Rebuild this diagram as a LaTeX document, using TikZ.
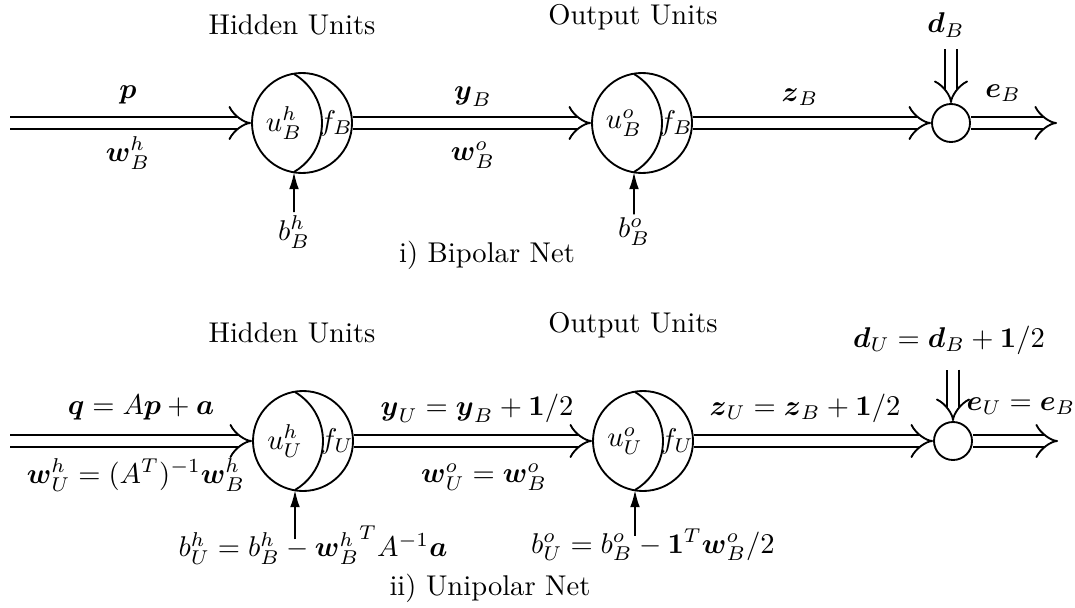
\documentclass[tikz,border=0pt]{standalone}
\usepackage{amsmath,amssymb}
\usetikzlibrary{arrows.meta,positioning}

\begin{document}
\begin{tikzpicture}[x=0.35pt, y=-0.35pt, line width=0.65pt,
  unit/.style={draw, circle, minimum size=35pt, inner sep=0pt},
  sumnode/.style={draw, circle, minimum size=13.3pt, inner sep=0pt},
  vec/.style={double, double distance=3.6pt, -{Implies[scale=1.5]}},
  bias/.style={-{Latex[length=6pt, width=3.4pt]}},
  lbl/.style={inner sep=1pt}]
\useasboundingbox (0,0) rectangle (1075,607);
% i) bipolar net
\node[unit] (hB) at (302,123) {};
\node[unit] (oB) at (642,123) {};
\node[sumnode] (sB) at (951,123) {};
\coordinate (inB) at (10,123);
\coordinate (outB) at (1057,123);
\node[lbl] (hidB) at (292,25) {Hidden Units};
\node[lbl] (outpB) at (633,17) {Output Units};
\node[lbl] (uhB) at ([xshift=-6.3pt]hB.center) {$u^h_B$};
\node[lbl] (fhB) at ([xshift=11.9pt]hB.center) {$f_B$};
\node[lbl] (uoB) at ([xshift=-6.3pt]oB.center) {$u^o_B$};
\node[lbl] (foB) at ([xshift=11.9pt]oB.center) {$f_B$};
\node[lbl] (pB) at (128,95) {$\boldsymbol{p}$};
\node[lbl] (whB) at (128,153) {$\boldsymbol{w}^h_B$};
\node[lbl] (yB) at (473,97) {$\boldsymbol{y}_B$};
\node[lbl] (woB) at (473,155) {$\boldsymbol{w}^o_B$};
\node[lbl] (zB) at (800,97) {$\boldsymbol{z}_B$};
\node[lbl] (dB) at (946,25) {$\boldsymbol{d}_B$};
\node[lbl] (eB) at (1003,93) {$\boldsymbol{e}_B$};
\node[lbl] (bhB) at (294,232) {$b^h_B$};
\node[lbl] (boB) at (634,232) {$b^o_B$};
\node[lbl] (capB) at (487,255) {i) Bipolar Net};
% ii) unipolar net
\node[unit] (hU) at (303,441) {};
\node[unit] (oU) at (643,441) {};
\node[sumnode] (sU) at (953,441) {};
\coordinate (inU) at (10,441);
\coordinate (outU) at (1058,441);
\node[lbl] (hidU) at (292,333) {Hidden Units};
\node[lbl] (outpU) at (633,325) {Output Units};
\node[lbl] (uhU) at ([xshift=-6.3pt]hU.center) {$u^h_U$};
\node[lbl] (fhU) at ([xshift=11.9pt]hU.center) {$f_U$};
\node[lbl] (uoU) at ([xshift=-6.3pt]oU.center) {$u^o_U$};
\node[lbl] (foU) at ([xshift=11.9pt]oU.center) {$f_U$};
\node[lbl] (qU) at (141,408) {$\boldsymbol{q} = A\boldsymbol{p} + \boldsymbol{a}$};
\node[lbl] (whU) at (136,475) {$\boldsymbol{w}^h_U = (A^T)^{-1}\boldsymbol{w}^h_B$};
\node[lbl] (yU) at (477,408) {$\boldsymbol{y}_U = \boldsymbol{y}_B + \mathbf{1}/2$};
\node[lbl] (woU) at (484,477) {$\boldsymbol{w}^o_U = \boldsymbol{w}^o_B$};
\node[lbl] (zU) at (805,408) {$\boldsymbol{z}_U = \boldsymbol{z}_B + \mathbf{1}/2$};
\node[lbl] (dU) at (949,340) {$\boldsymbol{d}_U = \boldsymbol{d}_B + \mathbf{1}/2$};
\node[lbl] (eU) at (1021,406) {$\boldsymbol{e}_U = \boldsymbol{e}_B$};
\node[lbl] (bhU) at (313,545) {$b^h_U = b^h_B - {\boldsymbol{w}^h_B}^T A^{-1}\boldsymbol{a}$};
\node[lbl] (boU) at (653,545) {$b^o_U = b^o_B - \mathbf{1}^T\boldsymbol{w}^o_B/2$};
\node[lbl] (capU) at (490,588) {ii) Unipolar Net};
% inner arcs of the units
\foreach \n in {hB,oB,hU,oU}
  \draw ([shift={(-2.8pt,-17.15pt)}]\n.center) coordinate (\n-foot)
    arc[start angle=-59.5, end angle=59.5, radius=19.9pt];
% connectors
\draw[vec] (inB) -- (hB); \draw[vec] (hB) -- (oB); \draw[vec] (oB) -- (sB); \draw[vec] (sB) -- (outB);
\draw[vec] ([yshift=-3pt]sB |- dB.south) -- (sB);
\draw[bias] (bhB.north) -- (hB-foot); \draw[bias] (boB.north) -- (oB-foot);
\draw[vec] (inU) -- (hU); \draw[vec] (hU) -- (oU); \draw[vec] (oU) -- (sU); \draw[vec] (sU) -- (outU);
\draw[vec] ([yshift=-4pt]sU |- dU.south) -- (sU);
\draw[bias] ([yshift=6pt]hU-foot |- bhU.base) -- (hU-foot); \draw[bias] ([yshift=6pt]oU-foot |- boU.base) -- (oU-foot);
\end{tikzpicture}
\end{document}
